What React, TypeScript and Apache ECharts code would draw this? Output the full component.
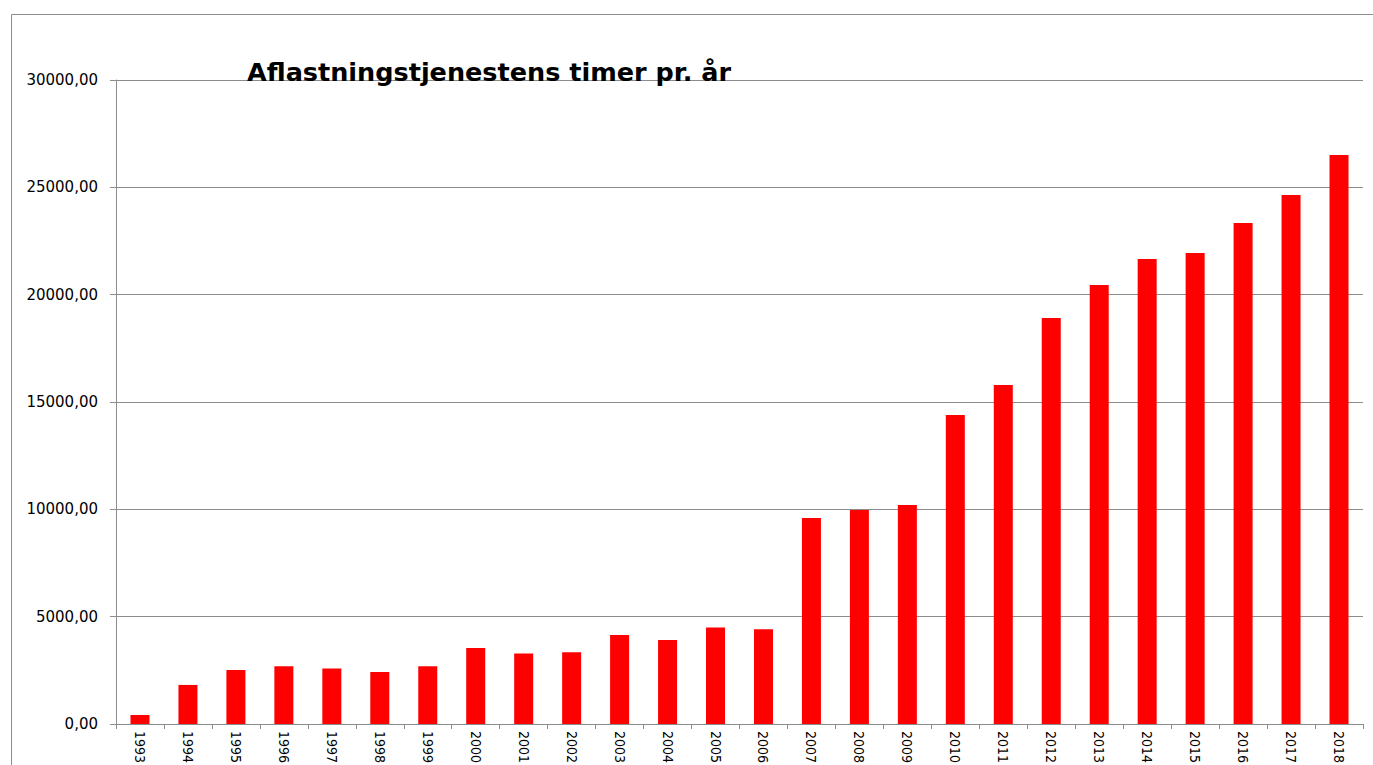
import React, { useEffect, useRef } from "react";
import * as echarts from "echarts";

const years: string[] = [
  "1993", "1994", "1995", "1996", "1997", "1998", "1999", "2000", "2001",
  "2002", "2003", "2004", "2005", "2006", "2007", "2008", "2009", "2010",
  "2011", "2012", "2013", "2014", "2015", "2016", "2017", "2018",
];
const hours: number[] = [
  420, 1820, 2520, 2690, 2580, 2420, 2690, 3540, 3280, 3340, 4150, 3910,
  4500, 4410, 9600, 9970, 10200, 14390, 15790, 18910, 20450, 21660, 21940,
  23340, 24640, 26510,
];
const title = "Aflastningstjenestens timer pr. år";

export default function App() {
  const ref = useRef<HTMLDivElement>(null);
  useEffect(() => {
    if (!ref.current) return;
    const chart = echarts.init(ref.current, undefined, { renderer: "svg" });
    chart.setOption({
      animation: false,
      backgroundColor: "#ffffff",
      title: {
        text: title,
        left: 242,
        top: 54,
        textStyle: {
          fontFamily: "DejaVu Sans",
          fontWeight: "bold",
          fontSize: 25.5,
          color: "#000000",
        },
      },
      graphic: [
        {
          type: "rect",
          shape: { x: 11.5, y: 14.5, width: 1400, height: 800 },
          style: { fill: "none", stroke: "#8c8c8c", lineWidth: 1 },
          silent: true,
          z: -1,
        },
      ],
      grid: {
        left: 116,
        right: 10,
        top: 80,
        bottom: 41,
        containLabel: false,
        outerBoundsMode: "none",
      },
      xAxis: {
        type: "category",
        data: years,
        boundaryGap: true,
        axisLine: { lineStyle: { color: "#8c8c8c", width: 1 } },
        axisTick: { show: true, alignWithLabel: false, length: 5, lineStyle: { color: "#8c8c8c" } },
        axisLabel: {
          rotate: -90,
          margin: 7,
          interval: 0,
          fontFamily: "DejaVu Sans Condensed",
          fontSize: 14,
          color: "#000000",
        },
        splitLine: { show: false },
      },
      yAxis: {
        type: "value",
        min: 0,
        max: 30000,
        interval: 5000,
        axisLine: { show: true, lineStyle: { color: "#8c8c8c", width: 1 } },
        axisTick: { show: true, length: 6, lineStyle: { color: "#8c8c8c" } },
        axisLabel: {
          margin: 18,
          fontFamily: "DejaVu Sans",
          fontSize: 15,
          color: "#000000",
          formatter: (v: number) => v.toFixed(2).replace(".", ","),
        },
        splitLine: { show: true, lineStyle: { color: "#8c8c8c", width: 1 } },
      },
      series: [
        {
          type: "bar",
          data: hours,
          barWidth: 19,
          itemStyle: { color: "#ff0000" },
        },
      ],
    });
    return () => chart.dispose();
  }, []);
  return (
    <div
      ref={ref}
      style={{ position: "absolute", left: 0, top: 0, width: 1373, height: 765 }}
    />
  );
}
